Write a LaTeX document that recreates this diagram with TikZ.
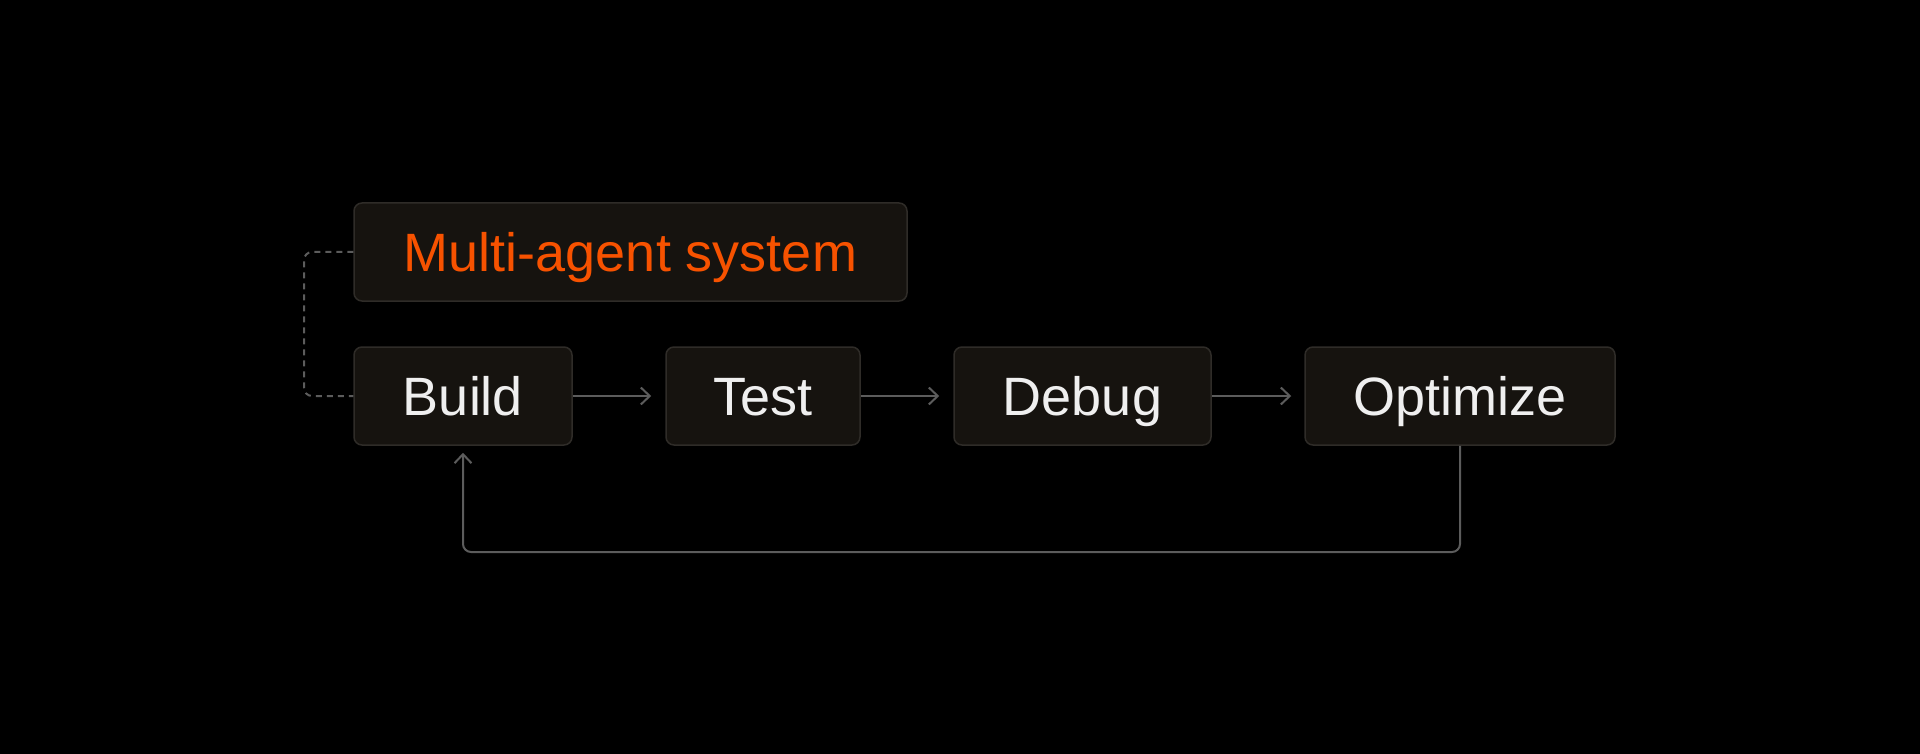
\documentclass[tikz,border=0pt]{standalone}
\usepackage{fontspec}
\setmainfont{Liberation Sans}
\usetikzlibrary{arrows.meta}
\definecolor{boxfill}{HTML}{16130F}
\definecolor{boxline}{HTML}{2F2C28}
\definecolor{connc}{HTML}{5C5C5C}
\definecolor{txtc}{HTML}{EFEFEF}
\definecolor{orangec}{HTML}{F75200}
\tikzset{
  stagebox/.style={draw=boxline, fill=boxfill, line width=1.5pt, rounded corners=8pt,
    minimum height=98pt, inner sep=0pt, text=txtc,
    text height=38.7pt, text depth=0pt,
    font=\fontsize{54}{60}\selectfont},
  conn/.style={draw=connc, line width=2pt},
  tipc/.style={-{Straight Barb[length=9pt,width=17pt,line width=2pt]}},
}
\begin{document}
\begin{tikzpicture}[x=1pt,y=-1pt]
\useasboundingbox[fill=black] (0,0) rectangle (1920,754);
\node[stagebox, minimum width=553pt, text=orangec] (multi) at (630.5,252) {Multi-agent system};
\node[stagebox, minimum width=218pt] (build) at (463,396) {Build};
\node[stagebox, minimum width=194pt] (test) at (763,396) {Test};
\node[stagebox, minimum width=257pt] (debug) at (1082.5,396) {Debug};
\node[stagebox, minimum width=310pt] (opt) at (1460,396) {Optimize};
\draw[conn, tipc, shorten >=14pt] (build.east) -- (test.west);
\draw[conn, tipc, shorten >=14pt] (test.east) -- (debug.west);
\draw[conn, tipc, shorten >=13pt] (debug.east) -- (opt.west);
\coordinate (loopy) at (0,552);
\draw[conn, tipc, rounded corners=8pt, shorten >=7pt] (opt.south) -- (opt.south |- loopy) -- (build.south |- loopy) -- (build.south);
\coordinate (dl) at (304,0);
\draw[conn, line width=2pt, dash pattern=on 6pt off 5pt, rounded corners=8pt] (multi.west) -- (multi.west -| dl) -- (build.west -| dl) -- (build.west);
\end{tikzpicture}
\end{document}
